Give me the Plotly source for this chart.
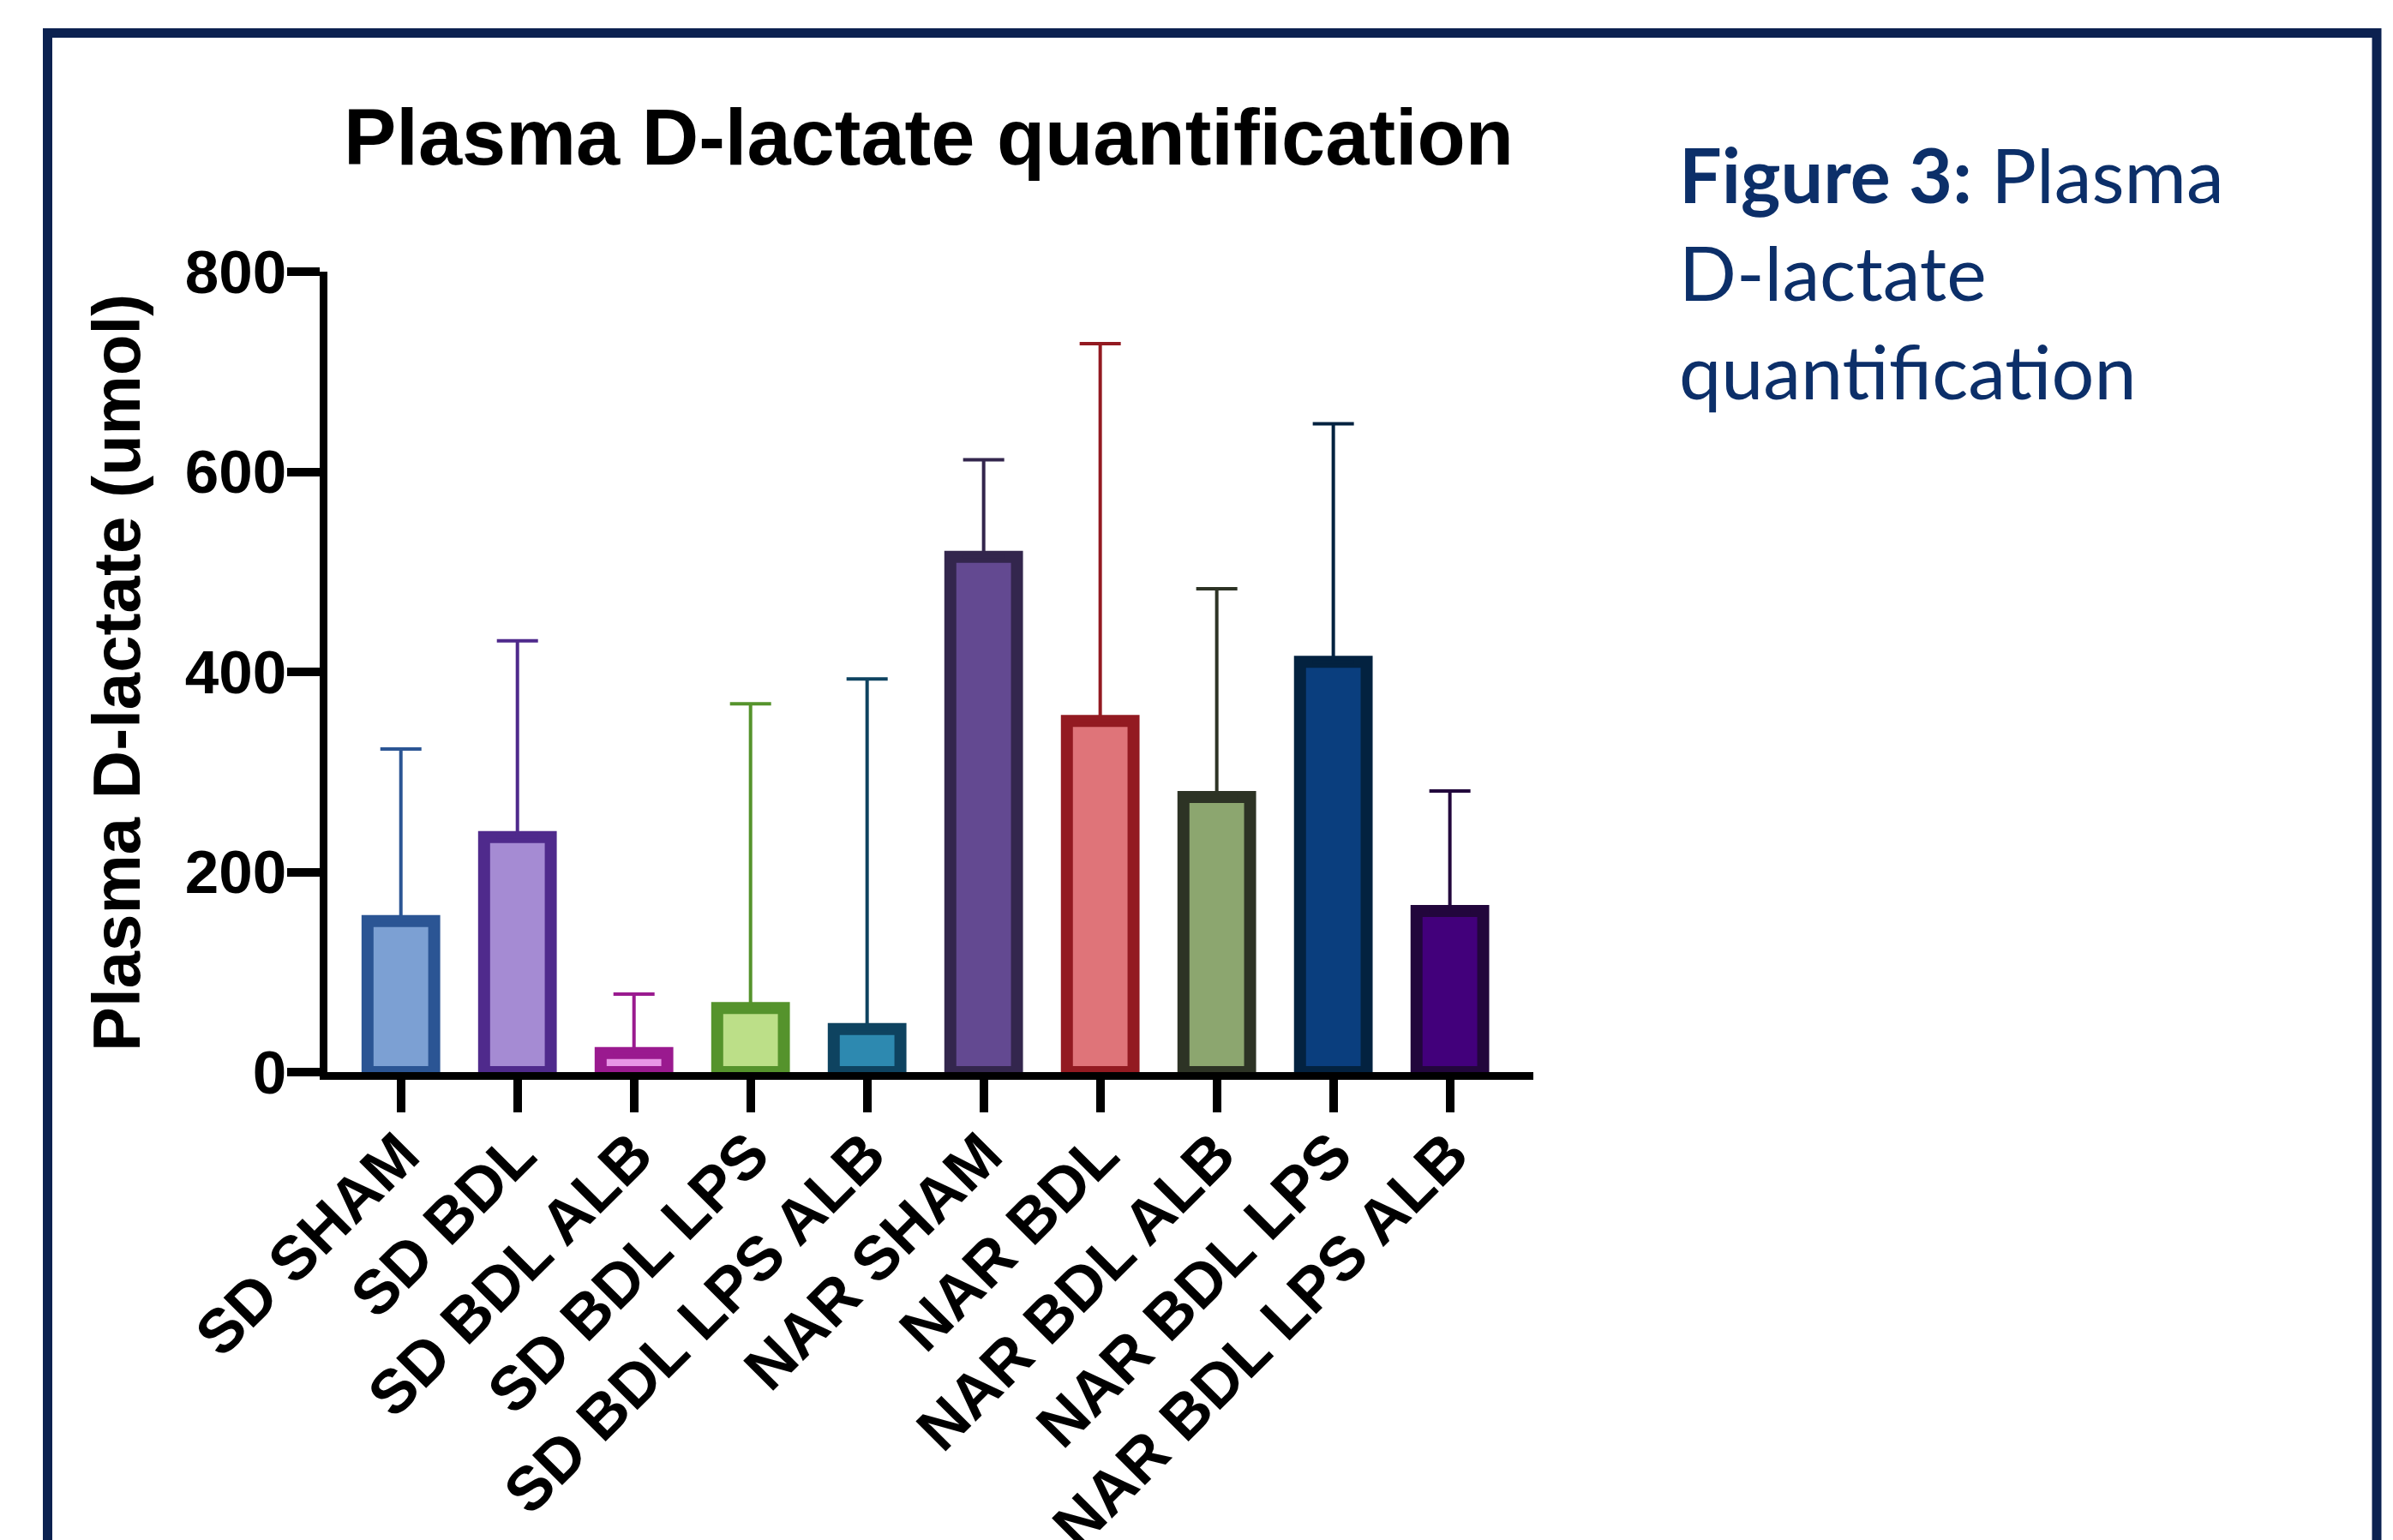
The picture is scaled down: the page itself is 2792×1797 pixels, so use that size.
import plotly.graph_objects as go

W, H = 2792, 1797
OFF = 8  # default page body margin of the html page

categories = ["SD SHAM", "SD BDL", "SD BDL ALB", "SD BDL LPS", "SD BDL LPS ALB",
              "NAR SHAM", "NAR BDL", "NAR BDL ALB", "NAR BDL LPS", "NAR BDL LPS ALB"]
means = [151, 235, 19, 64, 43, 515, 351, 275, 410, 161]
upper = [323, 431, 78, 368, 393, 612, 728, 483, 648, 281]
fill_colors = ["#7ca0d3", "#a58bd3", "#e896e6", "#bcdf88", "#2d89b0",
               "#634991", "#df7479", "#8ca66f", "#0a3e7e", "#42007b"]
line_colors = ["#2b5594", "#4f2a8c", "#9a1a8f", "#55932c", "#0e4360",
               "#33264d", "#931a21", "#2d3325", "#032240", "#22063c"]
y_ticks = [0, 200, 400, 600, 800]


def px_x(p):
    return (p - OFF) / W


def px_y(p):
    return (H - (p - OFF)) / H


fig = go.Figure()
for i, cat in enumerate(categories):
    fig.add_trace(go.Bar(
        x=[cat], y=[means[i]], width=0.572,
        marker=dict(color=fill_colors[i], line=dict(color=line_colors[i], width=14)),
        error_y=dict(type="data", symmetric=False, array=[upper[i] - means[i]],
                     arrayminus=[0], color=line_colors[i], thickness=4, width=24),
        showlegend=False, hoverinfo="skip",
    ))

font_main = "Liberation Sans, Arial, sans-serif"

fig.update_layout(
    width=W, height=H,
    margin=dict(l=0, r=0, t=0, b=0),
    paper_bgcolor="white", plot_bgcolor="white",
    barmode="overlay",
    xaxis=dict(
        domain=[px_x(381.5), px_x(1789)],
        range=[-0.634, 9.716],
        type="category",
        showline=True, linecolor="black", linewidth=9,
        ticks="outside", ticklen=38, tickwidth=10, tickcolor="black",
        tickangle=-45, ticklabelstandoff=-22,
        tickfont=dict(family=font_main, size=72, color="black", weight="bold"),
        showgrid=False, zeroline=False, automargin=False,
    ),
    yaxis=dict(
        domain=[px_y(1251), px_y(317)],
        range=[0, 800],
        tickvals=y_ticks, ticktext=[str(v) for v in y_ticks],
        showline=True, linecolor="black", linewidth=9,
        ticks="outside", ticklen=38, tickwidth=10, tickcolor="black",
        ticklabelstandoff=-14,
        tickfont=dict(family=font_main, size=71, color="black", weight="bold"),
        showgrid=False, zeroline=False, automargin=False,
    ),
    shapes=[dict(
        type="rect", xref="paper", yref="paper",
        x0=px_x(55.5), x1=px_x(2773), y0=px_y(1900), y1=px_y(38.5),
        line=dict(color="#0b2150", width=11), fillcolor="rgba(0,0,0,0)",
        layer="below",
    )],
    annotations=[
        dict(text="<b>Plasma D-lactate quantification</b>", xref="paper", yref="paper",
             x=px_x(1083), y=px_y(160), xanchor="center", yanchor="middle",
             showarrow=False, font=dict(family=font_main, size=92, color="black")),
        dict(text="<b>Plasma D-lactate (umol)</b>", xref="paper", yref="paper",
             x=px_x(136), y=px_y(785), xanchor="center", yanchor="middle",
             textangle=-90, showarrow=False,
             font=dict(family=font_main, size=78, color="black")),
        dict(text="<b>Figure 3:</b> Plasma<br>D-lactate<br>quantification",
             xref="paper", yref="paper", x=px_x(1957), y=px_y(148),
             xanchor="left", yanchor="top", align="left", showarrow=False,
             font=dict(family="Lato, sans-serif", size=88, color="#0c2f69")),
    ],
)

fig.write_html("out.html")
